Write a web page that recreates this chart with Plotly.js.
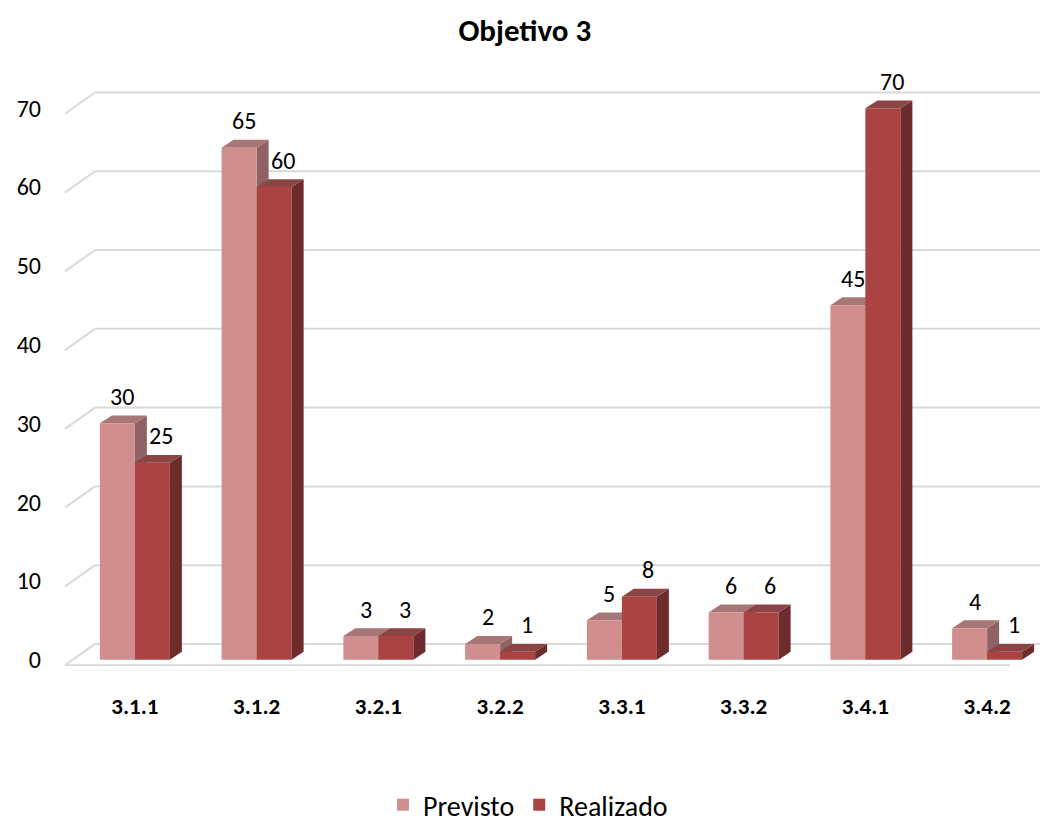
<!DOCTYPE html>
<html><head><meta charset="utf-8">
<script src="https://cdn.plot.ly/plotly-3.0.1.min.js"></script>
<style>html,body{margin:0;padding:0;background:#fff}#chart{width:1056px;height:830px}</style>
</head><body><div id="chart"></div>
<script>
const categories = ["3.1.1","3.1.2","3.2.1","3.2.2","3.3.1","3.3.2","3.4.1","3.4.2"];
const previsto = [30, 65, 3, 2, 5, 6, 45, 4];
const realizado = [25, 60, 3, 1, 8, 6, 70, 1];
const yTicks = [0, 10, 20, 30, 40, 50, 60, 70];

const FONT = "Carlito, Lato, 'Open Sans', sans-serif";
const W = 0.2875;       // bar width in category units
const DX = 0.0986;      // depth x (category units)
const DY = 1.0;         // depth y (value units)
const colP = '#d08e8e', colR = '#ab4343';
const colPTop = '#a77676', colPSide = '#8f6363';
const colRTop = '#8b4545', colRSide = '#6e2b2b';

const shapes = [];
const gx0 = -9/974, gx1 = 21/974, gx2 = 966/974;
yTicks.forEach(v => {
  shapes.push({type:'line', xref:'paper', yref:'y', x0:gx0, x1:gx1, y0:v-0.7, y1:v+2.0, line:{color:'#d9d9d9', width:2}, layer:'below'});
  shapes.push({type:'line', xref:'paper', yref:'y', x0:gx1, x1:gx2, y0:v+2.0, y1:v+2.0, line:{color:'#d9d9d9', width:2}, layer:'below'});
});
shapes.push({type:'line', xref:'paper', yref:'y', x0:gx0, x1:gx2-gx1+gx0, y0:-0.7, y1:-0.7, line:{color:'#d9d9d9', width:2}, layer:'below'});

function poly(pts){ return 'M' + pts.map(p => p[0] + ',' + p[1]).join('L') + 'Z'; }
previsto.forEach((v, i) => {
  const xl = i - W, xr = i;
  shapes.push({type:'path', xref:'x', yref:'y', layer:'below', line:{width:0}, fillcolor:colPSide,
    path: poly([[xr,0],[xr+DX,DY],[xr+DX,v+DY],[xr,v]])});
  shapes.push({type:'path', xref:'x', yref:'y', layer:'below', line:{width:0}, fillcolor:colPTop,
    path: poly([[xl,v],[xl+DX,v+DY],[xr+DX,v+DY],[xr,v]])});
});
realizado.forEach((v, i) => {
  const xl = i, xr = i + W;
  shapes.push({type:'path', xref:'x', yref:'y', layer:'above', line:{width:0}, fillcolor:colRSide,
    path: poly([[xr,0],[xr+DX,DY],[xr+DX,v+DY],[xr,v]])});
  shapes.push({type:'path', xref:'x', yref:'y', layer:'above', line:{width:0}, fillcolor:colRTop,
    path: poly([[xl,v],[xl+DX,v+DY],[xr+DX,v+DY],[xr,v]])});
});

const annotations = [];
previsto.forEach((v, i) => annotations.push({x: i - W/2, y: v, xref:'x', yref:'y', text: String(v), showarrow:false,
  yanchor:'middle', yshift:27, xshift:5, font:{family:FONT, size:24, color:'#000'}}));
realizado.forEach((v, i) => annotations.push({x: i + W/2, y: v, xref:'x', yref:'y', text: String(v), showarrow:false,
  yanchor:'middle', yshift:27, xshift:9, font:{family:FONT, size:24, color:'#000'}}));

const idx = categories.map((c, i) => i);
const data = [
  {type:'bar', name:'Previsto', x: idx, y: previsto, marker:{color:colP, line:{width:0}}, hoverinfo:'skip'},
  {type:'bar', name:'Realizado', x: idx, y: realizado, marker:{color:colR, line:{width:0}}, hoverinfo:'skip'}
];

const layout = {
  width:1056, height:830,
  paper_bgcolor:'#fff', plot_bgcolor:'rgba(0,0,0,0)',
  margin:{l:74, r:8, t:87, b:164},
  barmode:'group', bargap:0.425, bargroupgap:0,
  title:{text:'<b>Objetivo 3</b>', font:{family:FONT, size:31, color:'#000'}, xref:'container', x:0.497, xanchor:'center', yref:'container', y:1-30/830, yanchor:'middle'},
  xaxis:{type:'linear', range:[-0.5, 7.5], tickmode:'array', tickvals: idx, ticktext: categories.map(c => '<b>'+c+'</b>'),
    showgrid:false, zeroline:false, showline:false, ticks:'', ticklabelstandoff:24,
    tickfont:{family:FONT, size:23, color:'#000'}, fixedrange:true},
  yaxis:{range:[-0.8, 72.7], tickmode:'array', tickvals: yTicks, ticktext: yTicks.map(String),
    showgrid:false, zeroline:false, showline:false, ticks:'', ticklabelstandoff:32,
    tickfont:{family:FONT, size:24, color:'#000'}, fixedrange:true},
  legend:{orientation:'h', xref:'container', x:0.5, xanchor:'center', yref:'container', y:0, yanchor:'bottom',
    font:{family:FONT, size:28, color:'#000'}, itemwidth:30, traceorder:'normal'},
  shapes: shapes, annotations: annotations, showlegend:true
};
Plotly.newPlot('chart', data, layout, {staticPlot:true, displayModeBar:false});
</script></body></html>
